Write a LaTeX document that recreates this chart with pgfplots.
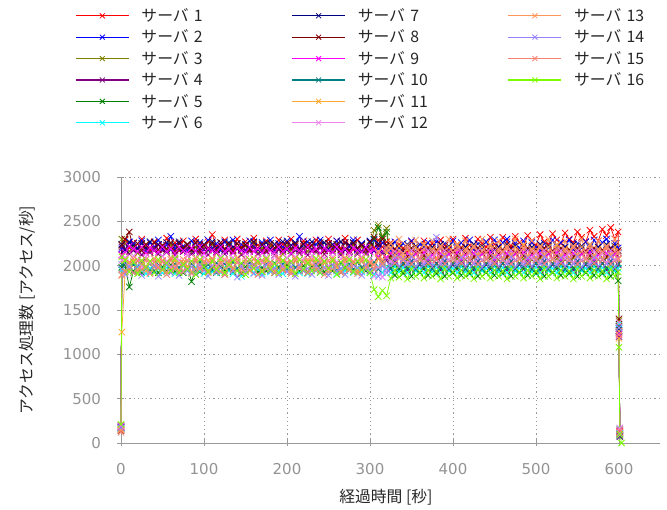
\documentclass[border=0pt]{standalone}
\usepackage{fontspec}
\setmainfont{Noto Sans CJK JP}
\newfontfamily\dejavu{DejaVu Sans}
\usepackage{pgfplots}
\usepackage{pgfplotstable}
\pgfplotsset{compat=1.18}
\definecolor{c1}{RGB}{255,0,0}
\definecolor{c2}{RGB}{0,0,255}
\definecolor{c3}{RGB}{128,128,0}
\definecolor{c4}{RGB}{128,0,128}
\definecolor{c5}{RGB}{0,128,0}
\definecolor{c6}{RGB}{0,255,255}
\definecolor{c7}{RGB}{0,0,128}
\definecolor{c8}{RGB}{128,0,0}
\definecolor{c9}{RGB}{255,0,255}
\definecolor{c10}{RGB}{0,128,128}
\definecolor{c11}{RGB}{255,170,50}
\definecolor{c12}{RGB}{238,130,238}
\definecolor{c13}{RGB}{255,150,90}
\definecolor{c14}{RGB}{150,130,255}
\definecolor{c15}{RGB}{250,128,114}
\definecolor{c16}{RGB}{124,252,0}
\pgfplotstableread{
x s1 s2 s3 s4 s5 s6 s7 s8 s9 s10 s11 s12 s13 s14 s15 s16
0 150 190 200 170 180 160 175 140 185 165 155 195 145 170 120 210
1 2120 2190 2300 2210 1980 1950 2240 2230 2120 2010 1250 2060 1890 1960 1900 2100
5 2290 2180 2250 2190 1990 1930 2180 2300 2150 2030 1940 2090 2070 1900 1930 2060
10 2200 2270 2160 2130 1760 1970 2260 2380 2220 1960 2020 2000 1960 1990 2040 1930
15 2260 2250 2210 2170 1940 1920 2230 2190 2190 2010 2050 2110 2080 1920 1920 2040
20 2190 2200 2140 2190 2000 1980 2190 2250 2160 1950 1960 2070 1940 2000 2060 1910
25 2300 2280 2200 2120 1920 1940 2250 2170 2210 2040 2010 1990 2050 1890 1950 2060
30 2220 2170 2230 2180 1980 1910 2200 2240 2140 1980 1940 2100 1990 1970 2070 1980
35 2170 2260 2150 2150 1950 1970 2270 2200 2200 2030 2040 2030 1920 1930 1910 2050
40 2270 2210 2190 2200 2000 1930 2170 2260 2170 1940 1980 2080 2080 2000 2040 1920
45 2230 2290 2130 2130 1920 1960 2240 2180 2150 2010 2050 2000 1970 1880 1980 2070
50 2180 2180 2220 2170 1990 1920 2200 2230 2210 1970 1950 2110 2060 1960 2050 1960
55 2310 2230 2170 2150 1940 1980 2260 2190 2160 2040 2020 2050 1930 2010 1900 2030
60 2200 2330 2240 2190 2010 1940 2180 2260 2190 1950 1970 1990 2090 1920 2070 1940
65 2260 2190 2140 2120 1930 1910 2230 2170 2140 2020 2060 2100 2000 1970 1960 2080
70 2170 2250 2200 2180 1970 1970 2270 2250 2210 1980 1940 2060 1950 1890 2030 1920
75 2280 2220 2160 2160 1920 1930 2190 2200 2170 2030 2030 2000 2070 2000 1930 2010
80 2230 2170 2230 2200 1990 1960 2240 2240 2150 1960 1980 2120 1990 1940 2060 1960
85 2190 2280 2150 2130 1820 1920 2170 2180 2200 2020 2040 2040 1930 1990 1910 2050
90 2300 2210 2210 2170 1960 1980 2260 2260 2160 1950 1960 2090 2080 1910 2050 1900
95 2240 2260 2130 2150 1930 1940 2200 2170 2210 2040 2010 1990 1960 2010 1970 2070
100 2180 2180 2220 2190 2000 1910 2240 2230 2140 1970 1950 2100 2050 1950 2040 1990
105 2270 2290 2170 2120 1940 1970 2180 2200 2190 2010 2060 2030 1940 1880 1920 1930
110 2350 2200 2240 2180 1980 1930 2270 2250 2170 1950 1990 2080 2080 2000 2070 2050
115 2220 2250 2140 2160 1920 1960 2200 2180 2150 2030 1940 2000 1990 1930 1950 1960
120 2190 2170 2200 2200 1990 1920 2230 2260 2210 1980 2040 2110 1930 1980 2030 2080
125 2290 2270 2160 2130 1950 1980 2170 2190 2160 2020 1970 2050 2070 1900 1900 1920
130 2230 2220 2230 2170 2000 1940 2260 2240 2190 1960 2030 1990 2000 2010 2060 2010
135 2180 2290 2150 2150 1930 1910 2210 2170 2140 2040 1950 2090 1950 1940 1970 2060
140 2300 2190 2210 2190 1970 1970 2250 2250 2200 1970 2050 2040 2090 1870 2040 1940
145 2210 2240 2130 2120 1910 1880 2180 2200 2170 2010 1990 2000 1960 1990 1920 2030
150 2270 2170 2220 2180 1990 1940 2240 2230 2150 1950 1940 2110 2030 1930 2070 1900
155 2190 2280 2170 2160 1950 1980 2200 2180 2210 2030 2060 2060 1940 2000 1950 2070
160 2310 2220 2240 2200 2010 1920 2270 2260 2160 1980 1970 1990 2080 1910 2020 1970
165 2230 2180 2140 2130 1930 1960 2180 2190 2190 2040 2030 2080 1980 1980 1900 2050
170 2180 2260 2200 2170 1980 1910 2230 2240 2140 1960 1950 2030 1930 1890 2060 1930
175 2280 2200 2160 2150 1940 1970 2260 2170 2200 2020 2050 2100 2070 2010 1960 2080
180 2220 2290 2230 2190 2000 1930 2190 2250 2170 1950 1980 2000 2000 1940 2040 1960
185 2170 2170 2150 2120 1920 1980 2240 2200 2150 2030 1940 2110 1950 1970 1920 2020
190 2290 2250 2210 2180 1990 1940 2200 2230 2210 1970 2040 2050 2090 1900 2070 1920
195 2240 2210 2130 2160 1950 1910 2270 2180 2160 2020 1970 1990 1960 2000 1950 2060
200 2190 2280 2220 2200 2010 1970 2180 2260 2190 1960 2030 2090 2040 1930 2030 1980
205 2300 2190 2170 2130 1930 1930 2230 2190 2140 2040 1950 2040 1930 1990 1910 2050
210 2220 2250 2240 2170 1980 1980 2260 2240 2200 1980 2060 2100 2080 1880 2060 1910
215 2190 2330 2140 2150 1940 1920 2190 2170 2170 2010 1990 2000 1990 2010 1970 2070
220 2280 2200 2200 2190 2000 1960 2240 2250 2150 1950 1940 2080 1940 1940 2050 1960
225 2230 2270 2160 2120 1920 1910 2200 2200 2210 2030 2050 2030 2070 1970 1920 2030
230 2180 2180 2230 2180 1990 1970 2270 2230 2160 1970 1970 2110 2010 1900 2070 1940
235 2290 2240 2150 2160 1950 1940 2180 2180 2190 2020 2040 2000 1950 2000 1950 2080
240 2240 2290 2210 2200 2010 1920 2230 2260 2140 1960 1950 2060 2090 1930 2040 1920
245 2170 2190 2130 2130 1930 1980 2260 2170 2200 2040 2030 2090 1970 1980 1900 2050
250 2300 2250 2220 2170 1980 1930 2190 2250 2170 1980 1960 1990 1930 1890 2060 1970
255 2210 2200 2170 2150 1940 1970 2240 2190 2150 2010 2060 2100 2080 2010 1960 2060
260 2280 2280 2240 2190 2000 1910 2200 2240 2210 1950 1980 2040 2000 1940 2030 1900
265 2190 2170 2140 2120 1920 1960 2270 2180 2160 2030 1940 2080 1940 1970 1920 2040
270 2310 2260 2200 2180 1990 1940 2180 2260 2190 1970 2050 2010 2090 1900 2070 1980
275 2230 2210 2160 2160 1950 1980 2230 2170 2140 2020 1970 2110 1960 2000 1950 2070
280 2180 2290 2230 2200 2010 1920 2260 2250 2200 1960 2030 2000 2050 1930 2040 1930
285 2290 2180 2150 2130 1930 1970 2190 2200 2170 2040 1950 2060 1930 1980 1910 2050
290 2240 2250 2210 2170 1980 1930 2240 2230 2150 1980 2060 2100 2080 1890 2060 1950
295 2190 2200 2130 2150 1940 1960 2200 2180 2210 2010 1990 1990 1990 2010 1960 2070
300 2270 2280 2220 2190 2000 1920 2270 2260 2160 1950 1940 2080 2040 1940 2030 1920
305 2200 2290 2400 2170 2300 1900 2170 2320 2180 2040 1960 1880 2010 1960 1960 1730
310 2290 2190 2460 2080 2430 1990 2250 2220 2100 1960 2080 1980 2150 1880 2160 1650
315 2210 2260 2330 2140 2320 1920 2160 2300 2170 2040 2010 1870 2060 2000 2030 1720
320 2270 2170 2420 2060 2380 1980 2230 2230 2090 1960 2150 1960 2200 1920 2180 1660
325 2260 2170 2080 1960 1970 1920 2230 2110 2140 1960 2200 2050 2250 2000 2190 1860
330 2170 2270 2000 2040 1890 1990 2150 2190 2060 2040 2090 2160 2120 2090 2030 1950
335 2240 2200 2090 1980 1960 1930 2210 2130 2130 1980 2220 2080 2300 1990 2170 1870
340 2200 2250 2010 2030 1910 1980 2160 2180 2070 2030 2100 2140 2140 2070 2060 1940
345 2150 2190 2070 1950 1980 1920 2240 2100 2140 1970 2180 2030 2230 2020 2200 1850
350 2270 2280 1990 2050 1880 1990 2170 2200 2050 2050 2120 2170 2110 2100 2020 1960
355 2210 2160 2060 1970 1950 1940 2220 2140 2130 1960 2210 2060 2290 1980 2160 1880
360 2180 2240 2030 2010 1920 1970 2150 2170 2080 2020 2070 2150 2150 2080 2080 1930
365 2280 2210 2080 1960 1970 1920 2230 2110 2150 1990 2230 2040 2240 2010 2190 1860
370 2200 2260 2000 2040 1890 1990 2180 2200 2060 2040 2100 2170 2100 2090 2030 1950
375 2250 2180 2070 1980 1960 1930 2210 2130 2120 1960 2190 2080 2280 1990 2170 1880
380 2170 2270 2020 2030 1910 1980 2160 2180 2070 2030 2080 2140 2160 2320 2060 1940
385 2290 2200 2090 1950 1980 1920 2240 2100 2140 1970 2220 2030 2220 2020 2200 1850
390 2230 2250 1990 2050 1880 1990 2170 2200 2050 2050 2110 2170 2120 2100 2020 1960
395 2190 2170 2060 1970 1950 1940 2220 2140 2130 1960 2210 2060 2300 1980 2160 1880
400 2300 2280 2030 2010 1920 1970 2150 2170 2080 2020 2070 2150 2150 2080 2080 1930
405 2240 2190 2080 1960 1970 1920 2230 2110 2150 1990 2230 2040 2240 2010 2190 1860
410 2200 2260 2000 2040 1890 1990 2180 2200 2060 2040 2100 2170 2100 2090 2030 1950
415 2310 2210 2070 1980 1960 1930 2210 2130 2120 1960 2190 2080 2280 1990 2170 1880
420 2230 2290 2020 2030 1910 1980 2160 2180 2070 2030 2080 2140 2160 2070 2060 1940
425 2190 2180 2090 1950 1980 1920 2240 2100 2140 1970 2220 2030 2220 2020 2200 1850
430 2300 2250 1990 2050 1880 1990 2170 2200 2050 2050 2110 2170 2120 2100 2020 1960
435 2250 2200 2060 1970 1950 1940 2220 2140 2130 1960 2210 2060 2300 1980 2160 1880
440 2210 2270 2030 2010 1920 1970 2150 2170 2080 2020 2070 2150 2150 2080 2080 1930
445 2320 2170 2080 1960 1970 1920 2230 2110 2150 1990 2230 2040 2240 2010 2190 1860
450 2240 2290 2000 2040 1890 1990 2180 2200 2060 2040 2100 2170 2100 2090 2030 1950
455 2200 2210 2070 1980 1960 1930 2210 2130 2120 1960 2190 2080 2280 1990 2170 1880
460 2320 2260 2020 2030 1910 1980 2160 2180 2070 2030 2080 2140 2160 2070 2060 1940
465 2270 2300 2090 1950 1980 1920 2240 2100 2140 1970 2220 2030 2220 2020 2200 1850
470 2220 2190 1990 2050 1880 1990 2170 2200 2050 2050 2110 2170 2120 2100 2020 1960
475 2330 2250 2060 1970 1950 1940 2220 2140 2130 1960 2210 2060 2300 1980 2160 1880
480 2260 2200 2030 2010 1920 1970 2150 2170 2080 2020 2070 2150 2150 2080 2080 1930
485 2220 2280 2080 1960 1970 1920 2230 2110 2150 1990 2230 2040 2240 2010 2190 1860
490 2340 2180 2000 2040 1890 1990 2180 2200 2060 2040 2100 2170 2100 2090 2030 1950
495 2280 2260 2070 1980 1960 1930 2210 2130 2120 1960 2190 2080 2280 1990 2170 1880
500 2230 2210 2020 2030 1910 1980 2160 2180 2070 2030 2080 2140 2160 2070 2060 1940
505 2350 2170 2090 1950 1980 1920 2240 2100 2140 1970 2220 2030 2220 2020 2200 1850
510 2270 2250 1990 2050 1880 1990 2170 2200 2050 2050 2110 2170 2120 2100 2020 1960
515 2240 2200 2060 1970 1950 1940 2220 2140 2130 1960 2210 2060 2300 1980 2160 1880
520 2360 2290 2030 2010 1920 1970 2150 2170 2080 2020 2070 2150 2150 2080 2080 1930
525 2290 2190 2080 1960 1970 1920 2230 2110 2150 1990 2230 2040 2240 2010 2190 1860
530 2250 2260 2000 2040 1890 1990 2180 2200 2060 2040 2100 2170 2100 2090 2030 1950
535 2370 2210 2070 1980 1960 1930 2210 2130 2120 1960 2190 2080 2280 1990 2170 1880
540 2300 2290 2020 2030 1910 1980 2160 2180 2070 2030 2080 2140 2160 2070 2060 1940
545 2260 2180 2090 1950 1980 1920 2240 2100 2140 1970 2220 2030 2220 2020 2200 1850
550 2380 2250 1990 2050 1880 1990 2170 2200 2050 2050 2110 2170 2120 2100 2020 1960
555 2320 2200 2060 1970 1950 1940 2220 2140 2130 1960 2210 2060 2300 1980 2160 1880
560 2270 2270 2030 2010 1920 1970 2150 2170 2080 2020 2070 2150 2150 2080 2080 1930
565 2400 2170 2080 1960 1970 1920 2230 2110 2150 1990 2230 2040 2240 2010 2190 1860
570 2330 2290 2000 2040 1890 1990 2180 2200 2060 2040 2100 2170 2100 2090 2030 1950
575 2280 2210 2070 1980 1960 1930 2210 2130 2120 1960 2190 2080 2280 1990 2170 1880
580 2410 2260 2020 2030 1910 1980 2160 2180 2070 2030 2080 2140 2160 2070 2060 1940
585 2340 2300 2090 1950 1980 1920 2240 2100 2140 1970 2220 2030 2220 2020 2200 1850
590 2430 2190 1990 2050 1880 1990 2170 2200 2050 2050 2110 2170 2120 2100 2020 1960
595 2300 2250 2060 1970 1950 1940 2220 2140 2130 1960 2210 2060 2300 1980 2160 1880
599 2380 2200 2030 2010 1830 1970 2150 2170 2080 2020 2070 2150 2150 2080 2080 1930
600 1320 1250 1380 1200 1290 1340 1270 1400 1230 1310 1180 1360 1260 1300 1220 1080
601 120 90 150 70 110 160 100 130 140 80 120 170 90 110 150 100
603 nan nan nan nan nan nan nan nan nan nan nan nan nan nan nan 0
}\data
\begin{document}
\begin{tikzpicture}
\useasboundingbox (0,0) rectangle (667pt,510pt);
\begin{axis}[
  at={(121pt,67pt)}, anchor=south west,
  scale only axis, width=539.5pt, height=266pt,
  xmin=0, xmax=650, ymin=0, ymax=3000,
  xtick={0,100,...,600}, ytick={0,500,...,3000},
  axis x line=bottom, axis y line=left,
  axis line style={-, draw=gray!80, line width=0.9pt},
  grid=major, major grid style={dash pattern=on 1.2pt off 3pt, gray!80, line width=0.9pt},
  tick style={gray!80, line width=0.9pt}, tick align=center, major tick length=7pt,
  /pgf/number format/assume math mode=true,
  /pgf/number format/1000 sep={},
  scaled ticks=false,
  ticklabel style={font=\dejavu\fontsize{15}{15}\selectfont, text=gray!85},
  yticklabel style={xshift=-13pt},
  xticklabel style={yshift=-13pt},
  xlabel={経過時間 [秒]},
  ylabel={アクセス処理数 [アクセス/秒]},
  label style={font=\fontsize{15.8}{16}\selectfont, text=black!85},
  xlabel style={at={(axis description cs:0.491,-0.203)}, anchor=center},
  ylabel style={at={(axis description cs:-0.174,0.5)}, anchor=center},
  clip=false,
  legend columns=3,
  legend cell align=left,
  legend style={draw=none, fill=none, inner sep=0pt,
    at={(axis description cs:-0.0853,1.647)}, anchor=north west,
    font=\fontsize{15.8}{16}\selectfont, text=black!85,
    row sep=0pt,
    nodes={inner xsep=0pt, inner ysep=0pt, minimum height=21.4pt, text width=100pt, align=left},
    /tikz/every odd column/.append style={column sep=12pt},
    /tikz/every even column/.append style={column sep=50pt}},
  legend image code/.code={\draw[mark repeat=2,mark phase=2] plot coordinates {(0pt,0pt) (26.5pt,0pt) (53pt,0pt)};},
  srv/.style={mark=x, mark size=4.5pt, line width=0.75pt},
  lg/.style={mark=x, mark size=3.5pt, line width=1.3pt, draw=#1, color=#1, mark options={line width=0.8pt, draw=#1}},
]
\addplot[srv,c1,forget plot] table[x=x,y=s1] {\data};
\addplot[srv,c2,forget plot] table[x=x,y=s2] {\data};
\addplot[srv,c3,forget plot] table[x=x,y=s3] {\data};
\addplot[srv,c4,forget plot] table[x=x,y=s4] {\data};
\addplot[srv,c5,forget plot] table[x=x,y=s5] {\data};
\addplot[srv,c6,forget plot] table[x=x,y=s6] {\data};
\addplot[srv,c7,forget plot] table[x=x,y=s7] {\data};
\addplot[srv,c8,forget plot] table[x=x,y=s8] {\data};
\addplot[srv,c9,forget plot] table[x=x,y=s9] {\data};
\addplot[srv,c10,forget plot] table[x=x,y=s10] {\data};
\addplot[srv,c11,forget plot] table[x=x,y=s11] {\data};
\addplot[srv,c12,forget plot] table[x=x,y=s12] {\data};
\addplot[srv,c13,forget plot] table[x=x,y=s13] {\data};
\addplot[srv,c14,forget plot] table[x=x,y=s14] {\data};
\addplot[srv,c15,forget plot] table[x=x,y=s15] {\data};
\addplot[srv,c16,forget plot] table[x=x,y=s16] {\data};
\addlegendimage{lg=c1}\addlegendentry{サーバ 1}
\addlegendimage{lg=c7}\addlegendentry{サーバ 7}
\addlegendimage{lg=c13}\addlegendentry{サーバ 13}
\addlegendimage{lg=c2}\addlegendentry{サーバ 2}
\addlegendimage{lg=c8}\addlegendentry{サーバ 8}
\addlegendimage{lg=c14}\addlegendentry{サーバ 14}
\addlegendimage{lg=c3}\addlegendentry{サーバ 3}
\addlegendimage{lg=c9}\addlegendentry{サーバ 9}
\addlegendimage{lg=c15}\addlegendentry{サーバ 15}
\addlegendimage{lg=c4}\addlegendentry{サーバ 4}
\addlegendimage{lg=c10}\addlegendentry{サーバ 10}
\addlegendimage{lg=c16}\addlegendentry{サーバ 16}
\addlegendimage{lg=c5}\addlegendentry{サーバ 5}
\addlegendimage{lg=c11}\addlegendentry{サーバ 11}
\addlegendimage{empty legend}\addlegendentry{}
\addlegendimage{lg=c6}\addlegendentry{サーバ 6}
\addlegendimage{lg=c12}\addlegendentry{サーバ 12}
\end{axis}
\end{tikzpicture}
\end{document}
